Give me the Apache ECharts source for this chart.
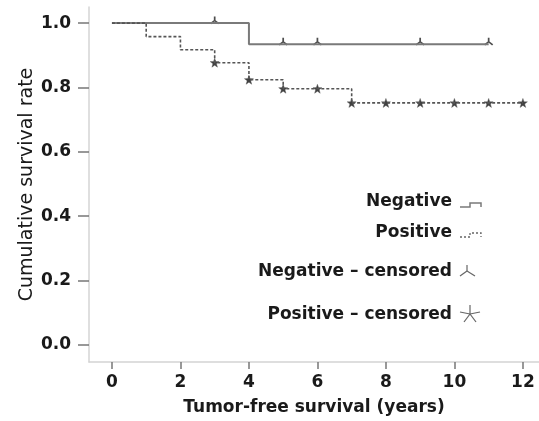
<!DOCTYPE html>
<html>
<head>
<meta charset="utf-8">
<script src="https://cdn.jsdelivr.net/npm/echarts@6/dist/echarts.min.js"></script>
<style>
html,body{margin:0;padding:0;background:#fff;}
#chart{width:539px;height:421px;}
</style>
</head>
<body>
<div id="chart"></div>
<script>
// Data
const xTicks = [0, 2, 4, 6, 8, 10, 12];
const yTicks = [0, 0.2, 0.4, 0.6, 0.8, 1.0];
const negTimes = [0, 4, 11];
const negSurv = [1.0, 0.934, 0.934];
const posTimes = [0, 1, 2, 3, 4, 5, 7, 12];
const posSurv = [1.0, 0.958, 0.917, 0.877, 0.824, 0.796, 0.752, 0.752];
const negCensTimes = [3, 5, 6, 9, 11];
const negCensSurv = [1.0, 0.934, 0.934, 0.934, 0.934];
const posCensTimes = [3, 4, 5, 6, 7, 8, 9, 10, 11, 12];
const posCensSurv = [0.877, 0.824, 0.796, 0.796, 0.752, 0.752, 0.752, 0.752, 0.752, 0.752];
const legendLabels = ['Negative', 'Positive', 'Negative \u2013 censored', 'Positive \u2013 censored'];

const zip = (a, b) => a.map((v, i) => [v, b[i]]);

const FONT = 'DejaVu Sans';
const STAR = 'path://M50,0 L61.76,33.82 L97.55,34.55 L69.02,56.18 L79.39,90.45 L50,70 L20.61,90.45 L30.98,56.18 L2.45,34.55 L38.24,33.82 Z';
const INVY = 'path://M5,0 L5,5 L0,9 M5,5 L10,9';

const chart = echarts.init(document.getElementById('chart'), null, {renderer: 'canvas'});

const legendFont = 'bold 17px "DejaVu Sans"';
const lx = 452;
const legendY = [202, 233, 272, 315];

function seg(x1, y1, x2, y2, color, w) {
  return {type: 'line', shape: {x1, y1, x2, y2}, style: {stroke: color, lineWidth: w}};
}

chart.setOption({
  animation: false,
  backgroundColor: '#fff',
  grid: {left: 89, right: 0, top: 7, bottom: 59, containLabel: false},
  xAxis: {
    type: 'value', min: -0.67, max: 12.47,
    name: 'Tumor-free survival (years)', nameLocation: 'middle', nameGap: 37, nameMoveOverlap: false,
    nameTextStyle: {fontFamily: FONT, fontWeight: 'bold', fontSize: 17, color: '#1a1a1a'},
    axisLine: {show: true, onZero: false, lineStyle: {color: '#d4d4d4', width: 1.5}},
    axisTick: {show: true, customValues: xTicks, length: 7, lineStyle: {color: '#777', width: 1.5}},
    axisLabel: {customValues: xTicks, margin: 12, fontFamily: FONT, fontWeight: 'bold', fontSize: 17, color: '#1a1a1a'},
    splitLine: {show: false}
  },
  yAxis: {
    type: 'value', min: -0.053, max: 1.05,
    name: 'Cumulative survival rate', nameLocation: 'middle', nameGap: 52, nameRotate: 90, nameMoveOverlap: false,
    nameTextStyle: {fontFamily: FONT, fontSize: 19, color: '#1a1a1a'},
    axisLine: {show: true, onZero: false, lineStyle: {color: '#d4d4d4', width: 1.5}},
    axisTick: {show: true, customValues: yTicks, length: 11, lineStyle: {color: '#777', width: 1.5}},
    axisLabel: {customValues: yTicks, margin: 18, fontFamily: FONT, fontWeight: 'bold', fontSize: 17, color: '#1a1a1a',
      formatter: v => v.toFixed(1)},
    splitLine: {show: false}
  },
  series: [
    {
      name: legendLabels[0], type: 'line', step: 'end', data: zip(negTimes, negSurv),
      showSymbol: false, symbol: 'none',
      lineStyle: {color: '#7a7a7a', width: 2}
    },
    {
      name: legendLabels[1], type: 'line', step: 'end', data: zip(posTimes, posSurv),
      showSymbol: false, symbol: 'none',
      lineStyle: {color: '#555', width: 1.6, type: [3, 2]}
    },
    {
      name: legendLabels[2], type: 'scatter', data: zip(negCensTimes, negCensSurv),
      symbol: INVY, symbolSize: [8, 7], symbolOffset: [0, -3],
      itemStyle: {color: 'none', borderColor: '#222', borderWidth: 1.6}
    },
    {
      name: legendLabels[3], type: 'scatter', data: zip(posCensTimes, posCensSurv),
      symbol: STAR, symbolSize: 9,
      itemStyle: {color: '#111', borderColor: '#555', borderWidth: 0.5}
    }
  ],
  graphic: [
    {type: 'text', style: {text: legendLabels[0], x: lx, y: legendY[0], align: 'right', verticalAlign: 'middle', font: legendFont, fill: '#1a1a1a'}},
    {type: 'text', style: {text: legendLabels[1], x: lx, y: legendY[1], align: 'right', verticalAlign: 'middle', font: legendFont, fill: '#1a1a1a'}},
    {type: 'text', style: {text: legendLabels[2], x: lx, y: legendY[2], align: 'right', verticalAlign: 'middle', font: legendFont, fill: '#1a1a1a'}},
    {type: 'text', style: {text: legendLabels[3], x: lx, y: legendY[3], align: 'right', verticalAlign: 'middle', font: legendFont, fill: '#1a1a1a'}},
    {type: 'polyline', shape: {points: [[460, 207], [470, 207], [470, 203], [481, 203], [481, 207]]},
      style: {stroke: '#7a7a7a', lineWidth: 1.5, fill: null}},
    {type: 'polyline', shape: {points: [[460, 237], [470, 237], [470, 233], [481, 233], [481, 237]]},
      style: {stroke: '#666', lineWidth: 1.3, lineDash: [2, 2], fill: null}},
    seg(467, 265, 467, 271, '#666', 1.2),
    seg(467, 271, 460, 276, '#666', 1.2),
    seg(467, 271, 475, 276, '#666', 1.2),
    seg(470, 314, 470, 305, '#666', 1.2),
    seg(470, 314, 460, 312, '#666', 1.2),
    seg(470, 314, 480, 312, '#666', 1.2),
    seg(470, 314, 464, 322, '#666', 1.2),
    seg(470, 314, 476, 322, '#666', 1.2)
  ]
});
</script>
</body>
</html>
